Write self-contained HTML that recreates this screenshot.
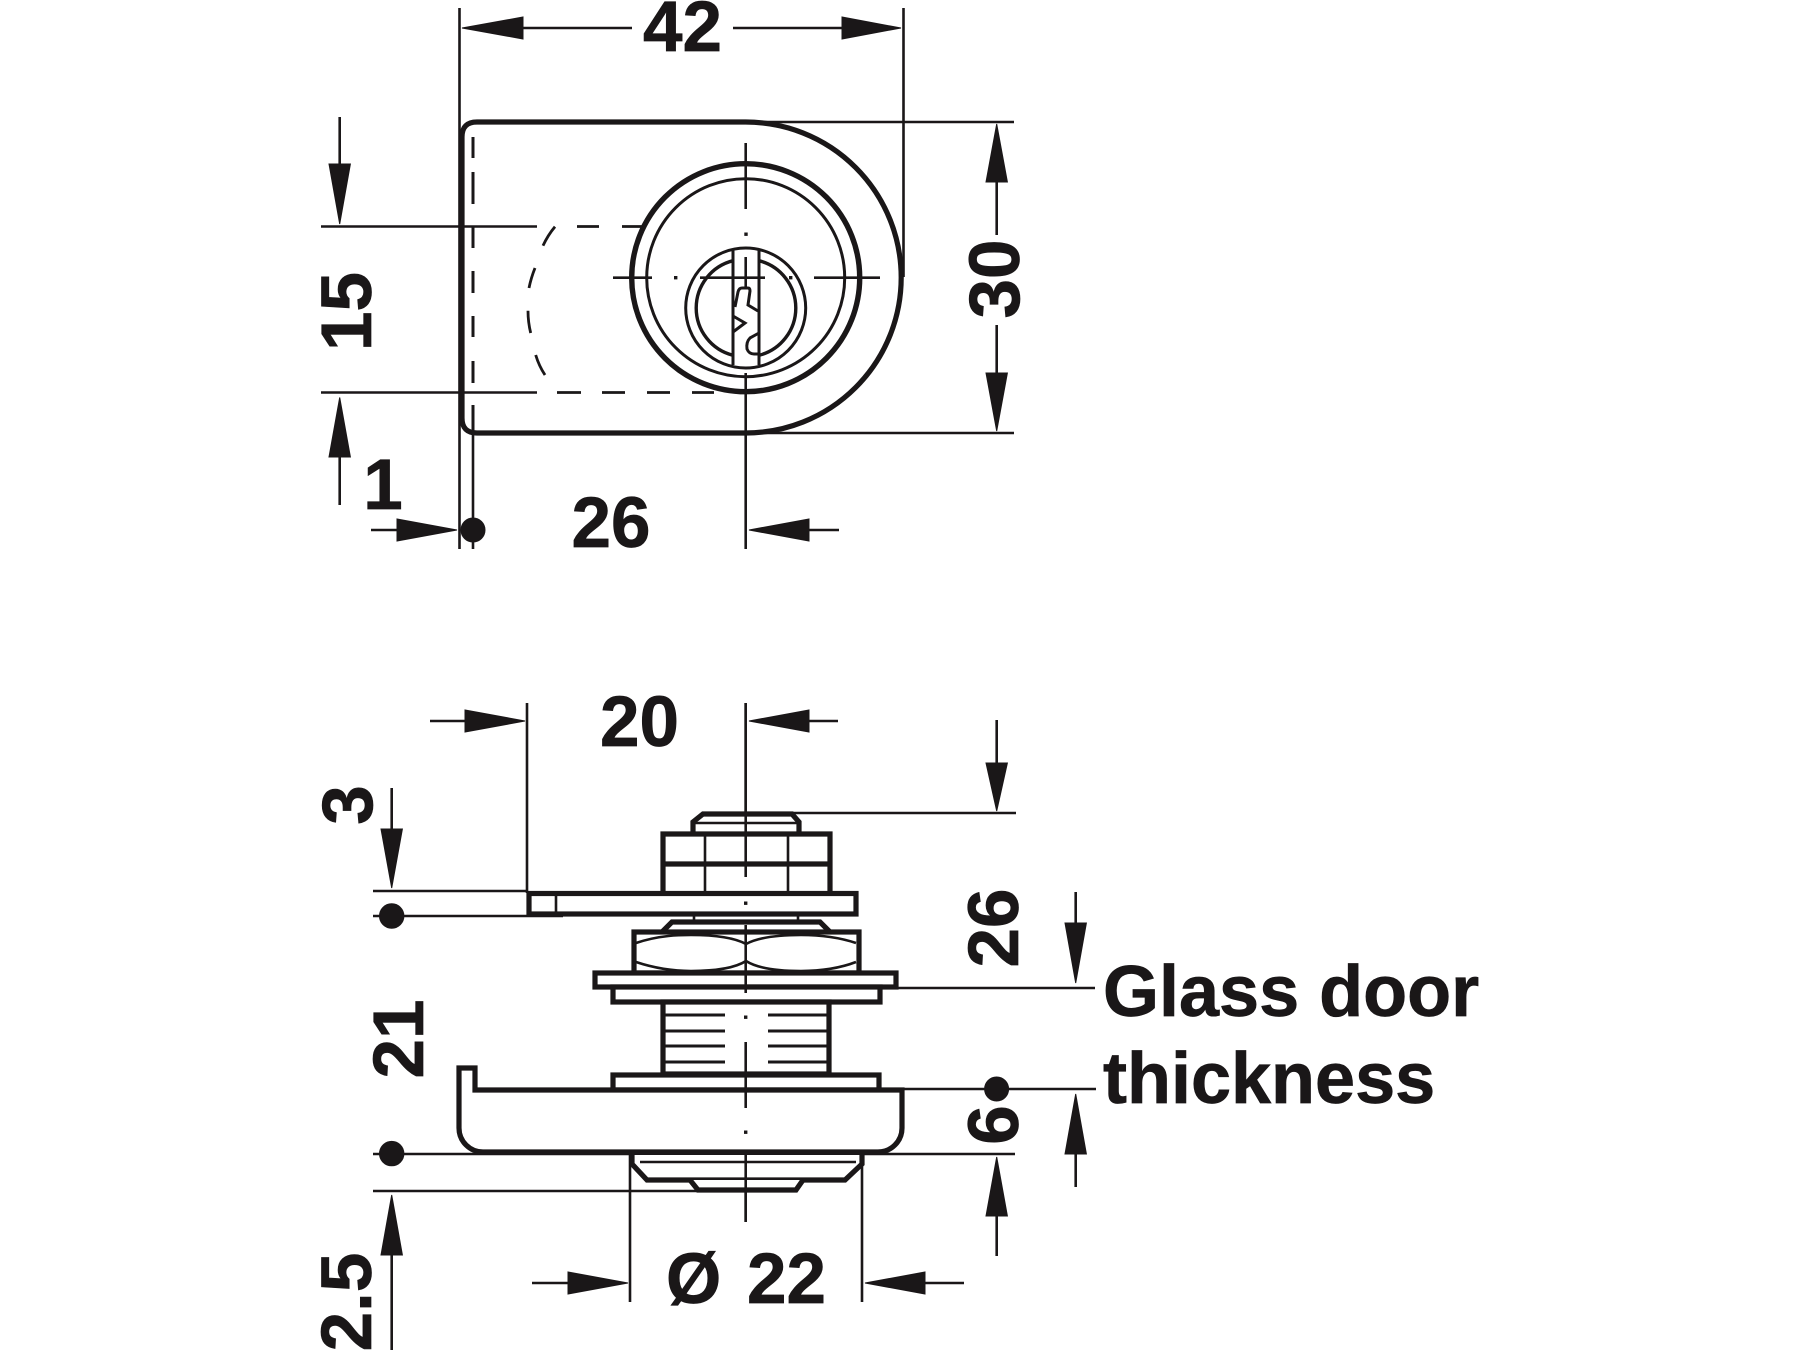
<!DOCTYPE html>
<html><head><meta charset="utf-8"><style>
html,body{margin:0;padding:0;background:#fff}
svg{display:block}
text{font-family:"Liberation Sans",sans-serif;font-weight:bold;fill:#1a1718;font-size:71px;stroke:#1a1718;stroke-width:.7px}
</style></head><body>
<svg width="1800" height="1350" viewBox="0 0 1800 1350" xmlns="http://www.w3.org/2000/svg">
<rect width="1800" height="1350" fill="#fff"/>
<!-- TOP VIEW -->
<g fill="none" stroke="#1a1718" stroke-width="2.6">
<path d="M459.5 8V549M903.5 8V277M473 420V549M745.7 122H1014M745.7 433H1014"/>
<path d="M321 226.5H537M321 392.5H537"/>
<path d="M745.7 143V209M745.7 373V549M613 277.7H652M700 277.7H765M814 277.7H880"/>
<path d="M473 137V158M473 172V204M473 226V248M473 271V293M473 316V337M473 361V383M473 405V433" stroke-width="3"/>
<path d="M577 226.5H599M622 226.5H643M557 392.5H581M602 392.5H625M647 392.5H670M692 392.5H714" stroke-width="2.8"/>
<path d="M555 226.7Q548 235 543 245.7M535 268Q531 278 529 288M528 310.7Q528 322 530.7 333M535.7 355Q539 366 545 375" stroke-width="2.8"/>
</g>
<path d="M477 122H745.7A155.5 155.5 0 0 1 745.7 433H477Q462 433 462 418V137Q462 122 477 122Z" fill="none" stroke="#1a1718" stroke-width="5.2"/>
<circle cx="745.7" cy="277.7" r="114" fill="none" stroke="#1a1718" stroke-width="5.4"/>
<circle cx="745.7" cy="277.7" r="99" fill="none" stroke="#1a1718" stroke-width="3"/>
<g fill="none" stroke="#1a1718" stroke-width="3">
<circle cx="745.7" cy="308" r="60"/>
<path d="M733 260.7A48.8 48.8 0 0 0 733 355.3M759 260.7A48.8 48.8 0 0 1 759 355.3" stroke-width="3.4"/>
<path d="M733 250V365M759 250V365"/>
<path d="M745.7 257V288" stroke-width="2.6"/>
<path d="M735 307L738 292Q739 288 742 288H748Q750 288 750 291L748 305L758 311"/>
<path d="M733 316L745 323L733 332"/>
<path d="M759 333L750 338Q746 342 747 349Q749 354 754 354H759"/>
</g>
<g fill="#1a1718">
<rect x="744.3" y="232.5" width="3.4" height="3.4"/><rect x="674" y="276" width="3.4" height="3.4"/><rect x="789" y="276" width="3.4" height="3.4"/>
</g>
<!-- top view arrows -->
<g fill="none" stroke="#1a1718" stroke-width="2.6">
<path d="M523 28H632M733 28H844M996.7 180V235M996.7 325V373M339.7 117V164M339.7 457V505M371 530H398M809 530H839"/>
</g>
<g fill="#1a1718" stroke="#1a1718" stroke-width="1">
<path d="M462 28L523 17V39ZM901 28L842 17V39Z"/>
<path d="M996.7 124L986 182H1007.4ZM996.7 431L986 373H1007.4Z"/>
<path d="M339.7 224L329 164H350.4ZM339.7 397.5L329 457H350.4Z"/>
<path d="M457 530L397 519V541ZM749 530L809 519V541Z"/>
<circle cx="473" cy="530" r="12"/>
</g>
<text x="682.5" y="51" text-anchor="middle">42</text>
<text x="611" y="547" text-anchor="middle">26</text>
<text x="383" y="509" text-anchor="middle">1</text>
<text transform="translate(371 311.5) rotate(-90)" text-anchor="middle">15</text>
<text transform="translate(1019 279) rotate(-90)" text-anchor="middle">30</text>

<!-- BOTTOM VIEW -->
<g fill="none" stroke="#1a1718" stroke-width="2.6">
<path d="M527 703V893M745.7 703V877M745.7 925V993M745.7 1042V1108M745.7 1155V1222"/>
<path d="M373 891H527M373 916H563M792 813H1016M897 988H1095M902 1089H1096M373 1154H1015M373 1191H700"/>
<path d="M630 1154V1302M862 1154V1302"/>
</g>
<g fill="#fff" stroke="#1a1718" stroke-width="5.2" stroke-linejoin="miter">
<path d="M693 834V822L703 814H792L799 822V834"/>
<path d="M663 892V834H830V892" fill="#fff"/>
<path d="M663 864H830"/>
<rect x="529" y="893.5" width="327" height="20.5"/>
<path d="M662 932L672 922H820L830 932"/>
<rect x="634" y="932" width="225" height="41"/>
<rect x="595" y="973" width="301" height="14"/>
<rect x="613" y="987" width="267" height="15"/>
<rect x="663" y="1002" width="166" height="72"/>
<rect x="613" y="1075" width="266" height="15"/>
<path d="M459 1068H475V1090H902V1128A24 24 0 0 1 878 1152H483A24 24 0 0 1 459 1128Z"/>
<path d="M632 1155V1164L647 1180H845L862 1164V1155"/>
<path d="M690 1180L698 1190H796L803 1180"/>
</g>
<g fill="none" stroke="#1a1718" stroke-width="2.6">
<path d="M695 823H797M705 834V892M788 834V892M556 893V914M694 914V922M798 914V922"/>
<path d="M636 943C660 935 680 935 691 935C715 935 735 938 746 944C757 938 777 935 801 935C815 935 835 936 856 943"/>
<path d="M636 962C660 970 680 971 691 971C715 971 735 968 746 961C757 968 777 971 801 971C815 971 835 970 856 962"/>
<path d="M663 1015H725M663 1031H725M663 1046H725M663 1062H725M768 1015H829M768 1031H829M768 1046H829M768 1062H829" stroke-width="3"/>
<path d="M640 1162H856"/>
<path d="M745.7 703V877M745.7 925V993M745.7 1042V1108M745.7 1155V1222"/>
</g>
<g fill="#1a1718">
<rect x="744" y="901.5" width="3.4" height="3.4"/><rect x="744" y="1015.5" width="3.4" height="3.4"/><rect x="744" y="1130.5" width="3.4" height="3.4"/>
</g>
<!-- bottom arrows -->
<g fill="none" stroke="#1a1718" stroke-width="2.6">
<path d="M430 721H465M809 721H838M996.7 720V765M391.7 788V829M1075.7 892V923M1075.7 1154V1187M996.7 1216V1256M391.7 1255V1350M532 1283H568M925 1283H964"/>
</g>
<g fill="#1a1718" stroke="#1a1718" stroke-width="1">
<path d="M525 721L465 710V732ZM749 721L809 710V732Z"/>
<path d="M996.7 811L986 763H1007.4Z"/>
<path d="M391.7 888L381 829H402.4Z"/>
<path d="M1075.7 983L1065 923H1086.4Z"/>
<path d="M1075.7 1094L1065 1154H1086.4Z"/>
<path d="M996.7 1157L986 1216H1007.4Z"/>
<path d="M391.7 1195L381 1255H402.4Z"/>
<path d="M628 1283L568 1272V1294ZM865 1283L925 1272V1294Z"/>
<circle cx="391.7" cy="916" r="12.2"/>
<circle cx="391.7" cy="1153.6" r="12.2"/>
<circle cx="996.6" cy="1089" r="12"/>
</g>
<text x="639.5" y="746" text-anchor="middle">20</text>
<text transform="translate(372 805) rotate(-90)" text-anchor="middle">3</text>
<text transform="translate(1018 928) rotate(-90)" text-anchor="middle">26</text>
<text transform="translate(423 1039) rotate(-90)" text-anchor="middle">21</text>
<text transform="translate(1018 1125) rotate(-90)" text-anchor="middle">6</text>
<text transform="translate(371 1302) rotate(-90)" text-anchor="middle">2.5</text>
<text x="666" y="1303">Ø</text>
<text x="747" y="1303">22</text>
<text x="1103" y="1016" style="font-size:72px">Glass door</text>
<text x="1103" y="1103" style="font-size:72px">thickness</text>
</svg>
</body></html>
